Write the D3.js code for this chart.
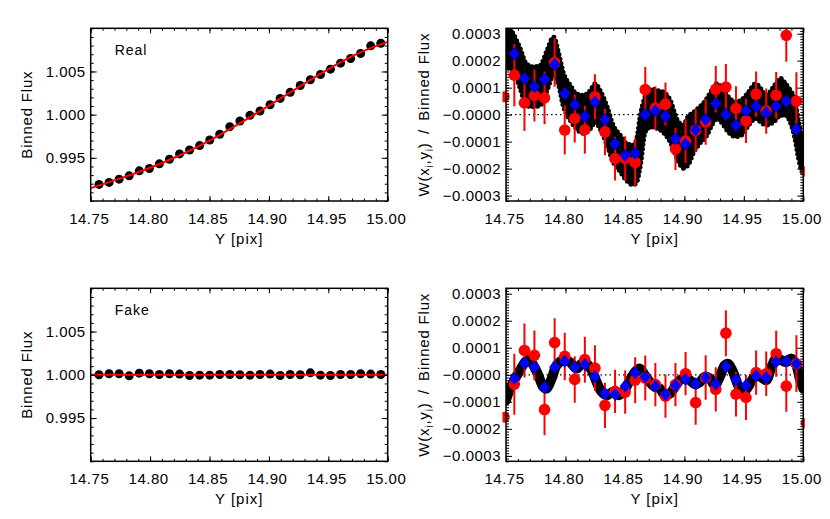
<!DOCTYPE html>
<html>
<head>
<meta charset="utf-8">
<script src="https://cdn.jsdelivr.net/npm/d3@7/dist/d3.min.js"></script>
<style>
  body { margin: 0; background: #fff; }
  svg { display: block; }
</style>
</head>
<body>
<script>
// bin centres shared by every panel
const binX = [14.7570, 14.7655, 14.7739, 14.7824, 14.7909, 14.7994, 14.8078, 14.8163,
  14.8248, 14.8332, 14.8417, 14.8502, 14.8586, 14.8671, 14.8756, 14.8841, 14.8925,
  14.9010, 14.9095, 14.9179, 14.9264, 14.9349, 14.9434, 14.9518, 14.9603, 14.9688,
  14.9772, 14.9857, 14.9942];

// left column: binned flux
const realFlux = [0.99192, 0.99215, 0.99253, 0.99291, 0.99349, 0.99376, 0.99430, 0.99484,
  0.99545, 0.99591, 0.99642, 0.99707, 0.99773, 0.99861, 0.99926, 0.99992, 1.00042,
  1.00115, 1.00188, 1.00258, 1.00338, 1.00404, 1.00465, 1.00527, 1.00596, 1.00650,
  1.00708, 1.00797, 1.00827];
const fitX = [14.75, 14.775, 14.80, 14.825, 14.85, 14.875, 14.90, 14.925, 14.95, 14.975, 15.00];
const realFit = [0.99149, 0.99262, 0.99385, 0.99530, 0.99700, 0.99895, 1.00105, 1.00318,
  1.00527, 1.00710, 1.00843];
const fakeFlux = [1.00000, 1.00012, 1.00012, 0.99988, 1.00019, 1.00012, 1.00004, 1.00012,
  1.00008, 0.99992, 0.99996, 0.99996, 1.00004, 1.00004, 1.00000, 0.99996, 1.00004,
  1.00008, 0.99992, 1.00004, 1.00000, 1.00023, 0.99996, 0.99992, 1.00004, 1.00004,
  1.00012, 1.00008, 1.00004];
const fakeFit = [1.0, 1.0, 1.0, 1.0, 1.0, 1.0, 1.0, 1.0, 1.0, 1.0, 1.0];

// right column: W(x,y) / binned flux
const realW = [1.46e-4, 0.44e-4, 0.71e-4, 0.62e-4, 1.93e-4, -0.57e-4, -0.14e-4, -0.56e-4,
  0.66e-4, -0.64e-4, -1.63e-4, -1.62e-4, -1.77e-4, 0.93e-4, 0.24e-4, 0.39e-4, -1.27e-4,
  -0.98e-4, -0.58e-4, -0.27e-4, 0.94e-4, 1.02e-4, 0.23e-4, -0.23e-4, 0.76e-4, 0.13e-4,
  0.72e-4, 2.94e-4, 0.50e-4];
const realWErr = [1.15e-4, 1.05e-4, 0.96e-4, 0.98e-4, 0.90e-4, 0.91e-4, 0.89e-4, 0.89e-4,
  0.84e-4, 0.86e-4, 0.81e-4, 0.82e-4, 0.89e-4, 0.84e-4, 0.81e-4, 0.80e-4, 0.78e-4,
  0.81e-4, 0.81e-4, 0.85e-4, 0.86e-4, 0.86e-4, 0.82e-4, 0.82e-4, 0.84e-4, 0.84e-4,
  0.86e-4, 0.98e-4, 1.07e-4];
const realWBin = [2.26e-4, 1.34e-4, 1.03e-4, 1.31e-4, 1.87e-4, 0.78e-4, 0.38e-4, -0.06e-4,
  0.47e-4, -0.18e-4, -1.09e-4, -1.50e-4, -1.43e-4, 0.01e-4, 0.14e-4, -0.06e-4, -0.89e-4,
  -1.09e-4, -0.56e-4, -0.18e-4, 0.41e-4, 0.01e-4, -0.39e-4, 0.14e-4, 0.31e-4, 0.08e-4,
  0.31e-4, 0.50e-4, -0.54e-4];
const bandX = [14.750, 14.753, 14.756, 14.762, 14.767, 14.773, 14.779, 14.784, 14.790,
  14.794, 14.798, 14.804, 14.809, 14.815, 14.821, 14.825, 14.829, 14.835, 14.840, 14.846,
  14.851, 14.857, 14.860, 14.863, 14.867, 14.872, 14.877, 14.882, 14.888, 14.894, 14.899,
  14.903, 14.908, 14.913, 14.919, 14.923, 14.927, 14.931, 14.937, 14.943, 14.948, 14.954,
  14.960, 14.964, 14.969, 14.975, 14.981, 14.985, 14.989, 14.993, 14.996, 14.999, 15.000];
const bandHi = [3.2e-4, 3.2e-4, 3.0e-4, 2.44e-4, 1.89e-4, 1.77e-4, 1.83e-4, 2.32e-4, 2.87e-4,
  2.32e-4, 1.58e-4, 1.09e-4, 0.78e-4, 0.72e-4, 0.90e-4, 1.15e-4, 0.90e-4, 0.29e-4, -0.39e-4,
  -0.76e-4, -1.06e-4, -1.13e-4, -0.88e-4, -0.02e-4, 0.66e-4, 0.95e-4, 0.90e-4, 0.84e-4,
  0.54e-4, -0.20e-4, -0.39e-4, -0.08e-4, 0.10e-4, 0.29e-4, 0.60e-4, 0.90e-4, 1.15e-4,
  1.03e-4, 0.66e-4, 0.47e-4, 0.54e-4, 0.84e-4, 1.15e-4, 0.97e-4, 0.72e-4, 1.03e-4, 1.34e-4,
  1.15e-4, 0.90e-4, 0.54e-4, -0.27e-4, -0.88e-4, -1.0e-4];
const bandLo = [1.8e-4, 1.7e-4, 1.64e-4, 0.97e-4, 0.35e-4, 0.29e-4, 0.35e-4, 0.84e-4, 1.46e-4,
  1.15e-4, 0.35e-4, -0.20e-4, -0.51e-4, -0.69e-4, -0.51e-4, -0.27e-4, -0.51e-4, -1.13e-4,
  -1.74e-4, -2.11e-4, -2.42e-4, -2.60e-4, -2.48e-4, -1.87e-4, -0.64e-4, -0.45e-4, -0.51e-4,
  -0.64e-4, -1.0e-4, -1.62e-4, -1.99e-4, -1.87e-4, -1.37e-4, -1.06e-4, -0.76e-4, -0.39e-4,
  -0.14e-4, -0.27e-4, -0.64e-4, -0.82e-4, -0.76e-4, -0.39e-4, -0.14e-4, -0.27e-4, -0.39e-4,
  -0.27e-4, -0.02e-4, -0.02e-4, -0.27e-4, -0.88e-4, -1.62e-4, -2.11e-4, -2.2e-4];

const fakeW = [-0.35e-4, 0.90e-4, 0.72e-4, -1.29e-4, 1.19e-4, 0.68e-4, -0.17e-4, 0.56e-4,
  0.25e-4, -1.13e-4, -0.61e-4, -0.64e-4, -0.20e-4, -0.12e-4, -0.36e-4, -0.79e-4, -0.36e-4,
  0.04e-4, -1.03e-4, -0.10e-4, -0.54e-4, 1.54e-4, -0.72e-4, -0.84e-4, 0.08e-4, 0.04e-4,
  0.78e-4, -0.42e-4, 0.41e-4];
const fakeWErr = [1.13e-4, 1.00e-4, 0.92e-4, 0.95e-4, 0.90e-4, 0.88e-4, 0.86e-4, 0.85e-4,
  0.84e-4, 0.84e-4, 0.80e-4, 0.80e-4, 0.85e-4, 0.83e-4, 0.80e-4, 0.80e-4, 0.80e-4,
  0.80e-4, 0.82e-4, 0.82e-4, 0.82e-4, 0.85e-4, 0.82e-4, 0.83e-4, 0.82e-4, 0.82e-4,
  0.85e-4, 0.95e-4, 1.05e-4];
const fakeWBin = [-0.14e-4, 0.44e-4, 0.29e-4, -0.47e-4, 0.29e-4, 0.50e-4, 0.29e-4, 0.38e-4,
  -0.06e-4, -0.69e-4, -0.73e-4, -0.41e-4, 0.08e-4, -0.08e-4, -0.42e-4, -0.73e-4, -0.39e-4,
  -0.17e-4, -0.33e-4, -0.10e-4, -0.33e-4, 0.31e-4, -0.18e-4, -0.39e-4, -0.04e-4, -0.10e-4,
  0.47e-4, 0.50e-4, 0.41e-4];
const curveX = [14.7500, 14.7534, 14.7576, 14.7618, 14.7660, 14.7688, 14.7730, 14.7772,
  14.7814, 14.7842, 14.7884, 14.7926, 14.7982, 14.8038, 14.8094, 14.8136, 14.8178, 14.8220,
  14.8262, 14.8304, 14.8346, 14.8402, 14.8444, 14.8486, 14.8542, 14.8584, 14.8626, 14.8668,
  14.8710, 14.8752, 14.8794, 14.8836, 14.8878, 14.8920, 14.8962, 14.9004, 14.9046, 14.9088,
  14.9130, 14.9172, 14.9214, 14.9256, 14.9298, 14.9340, 14.9368, 14.9410, 14.9452, 14.9494,
  14.9536, 14.9578, 14.9620, 14.9662, 14.9690, 14.9732, 14.9774, 14.9816, 14.9858, 14.9900,
  14.9942, 14.9970, 15.0000];
const curveW = [-0.94e-4, -0.51e-4, -0.14e-4, 0.17e-4, 0.47e-4, 0.56e-4, 0.35e-4, -0.02e-4,
  -0.45e-4, -0.51e-4, -0.14e-4, 0.35e-4, 0.54e-4, 0.47e-4, 0.23e-4, 0.41e-4, 0.41e-4,
  0.17e-4, -0.27e-4, -0.63e-4, -0.76e-4, -0.63e-4, -0.76e-4, -0.63e-4, -0.20e-4, 0.10e-4,
  0.23e-4, -0.02e-4, -0.27e-4, -0.45e-4, -0.51e-4, -0.76e-4, -0.70e-4, -0.45e-4, -0.20e-4,
  -0.14e-4, -0.20e-4, -0.35e-4, -0.27e-4, -0.07e-4, -0.14e-4, -0.39e-4, -0.07e-4, 0.35e-4,
  0.41e-4, 0.10e-4, -0.39e-4, -0.63e-4, -0.45e-4, -0.14e-4, -0.02e-4, -0.14e-4, -0.20e-4,
  0.29e-4, 0.62e-4, 0.54e-4, 0.47e-4, 0.60e-4, 0.35e-4, -0.14e-4, -0.51e-4];

// symbols that sit just outside the x range and only show as a sliver
const edgeX = [14.7485, 15.0025];
const realEdgeW = [0.66e-4, -2.11e-4];
const fakeEdgeW = [-1.57e-4, -1.79e-4];

// tick values
const xMajor = [14.75, 14.80, 14.85, 14.90, 14.95, 15.00];
const xMinor = d3.range(14.75, 15.0001, 0.01);
const fluxMajor = [0.995, 1.000, 1.005];
const fluxMinor = d3.range(0.990, 1.01001, 0.001);
const wMajor = [-0.0003, -0.0002, -0.0001, 0, 0.0001, 0.0002, 0.0003];
const wMinor = d3.range(-0.00032, 0.000321, 0.00001);

const W = 830, H = 519;
const FONT = "'Liberation Sans', Arial, sans-serif";
const svg = d3.select("body").append("svg")
  .attr("width", W).attr("height", H)
  .style("font-family", FONT);

const colLeft = [90.7, 387.7], colRight = [506, 803.3];
const rowTop = [28.3, 201], rowBot = [288.3, 461.3];

let clipN = 0;

function panel(xr, yr, yDomain, yMajor, yMinor, yFmt) {
  const x = d3.scaleLinear().domain([14.75, 15.0]).range(xr);
  const y = d3.scaleLinear().domain(yDomain).range([yr[1], yr[0]]);
  const g = svg.append("g");
  const id = "clip" + (clipN++);
  svg.append("clipPath").attr("id", id).append("rect")
    .attr("x", xr[0]).attr("y", yr[0]).attr("width", xr[1] - xr[0]).attr("height", yr[1] - yr[0]);
  const plot = g.append("g").attr("clip-path", `url(#${id})`);
  return { x, y, g, plot, xr, yr, yMajor, yMinor, yFmt, id };
}

function axes(p) {
  const { g, x, y, xr, yr } = p;
  const ax = g.append("g");
  ax.append("g").attr("transform", `translate(0,${yr[1]})`)
    .call(d3.axisBottom(x).tickValues(xMinor).tickSize(-2.5).tickFormat(""));
  ax.append("g").attr("transform", `translate(0,${yr[0]})`)
    .call(d3.axisTop(x).tickValues(xMinor).tickSize(-2.5).tickFormat(""));
  ax.append("g").attr("transform", `translate(0,${yr[1]})`)
    .call(d3.axisBottom(x).tickValues(xMajor).tickSize(-5).tickPadding(12).tickFormat(d3.format(".2f")))
    .selectAll("text").attr("dx", -2);
  ax.append("g").attr("transform", `translate(0,${yr[0]})`)
    .call(d3.axisTop(x).tickValues(xMajor).tickSize(-5).tickFormat(""));
  ax.append("g").attr("transform", `translate(${xr[0]},0)`)
    .call(d3.axisLeft(y).tickValues(p.yMinor).tickSize(-3).tickFormat(""));
  ax.append("g").attr("transform", `translate(${xr[1]},0)`)
    .call(d3.axisRight(y).tickValues(p.yMinor).tickSize(-3).tickFormat(""));
  ax.append("g").attr("transform", `translate(${xr[0]},0)`)
    .call(d3.axisLeft(y).tickValues(p.yMajor).tickSize(-6).tickPadding(5).tickFormat(p.yFmt));
  ax.append("g").attr("transform", `translate(${xr[1]},0)`)
    .call(d3.axisRight(y).tickValues(p.yMajor).tickSize(-6).tickFormat(""));
  ax.selectAll(".domain").remove();
  ax.selectAll("line").attr("stroke", "#000").attr("stroke-width", 1);
  ax.selectAll("text").attr("fill", "#000").style("font-family", FONT)
    .style("font-size", "15px").style("letter-spacing", "0.5px");
  ax.selectAll("g").attr("font-family", null).attr("font-size", null);
  g.append("rect").attr("x", xr[0]).attr("y", yr[0])
    .attr("width", xr[1] - xr[0]).attr("height", yr[1] - yr[0])
    .attr("fill", "none").attr("stroke", "#000").attr("stroke-width", 1.5);
  g.append("text").attr("x", (xr[0] + xr[1]) / 2).attr("y", yr[1] + 43)
    .attr("text-anchor", "middle").style("font-size", "15px").style("letter-spacing", "1px")
    .text("Y [pix]");
}

function fluxPanel(yr, flux, fit, label) {
  const p = panel(colLeft, yr, [0.990, 1.010], fluxMajor, fluxMinor, d3.format(".3f"));
  p.plot.selectAll("circle").data(binX).join("circle")
    .attr("cx", d => p.x(d)).attr("cy", (d, i) => p.y(flux[i])).attr("r", 4.5).attr("fill", "#000");
  p.plot.append("path").datum(fitX)
    .attr("d", d3.line().x(d => p.x(d)).y((d, i) => p.y(fit[i])).curve(d3.curveNatural))
    .attr("fill", "none").attr("stroke", "#ff0000").attr("stroke-width", 2);
  axes(p);
  p.g.append("text").attr("x", colLeft[0] + 24).attr("y", yr[0] + 27)
    .style("font-size", "14px").style("letter-spacing", "1px").text(label);
  p.g.append("text")
    .attr("transform", `translate(${colLeft[0] - 59},${(yr[0] + yr[1]) / 2}) rotate(-90)`)
    .attr("text-anchor", "middle").style("font-size", "15px").style("letter-spacing", "0.8px")
    .text("Binned Flux");
}

function wFmt(v) {
  return (v <= 0 ? "\u2212" : "") + Math.abs(v).toFixed(4);
}

function wPanel(yr, red, err, blue, edgeW, drawBlack) {
  const p = panel(colRight, yr, [-0.00032, 0.00032], wMajor, wMinor, wFmt);
  p.plot.append("line").attr("x1", colRight[0]).attr("x2", colRight[1])
    .attr("y1", p.y(0)).attr("y2", p.y(0))
    .attr("stroke", "#000").attr("stroke-width", 1.3).attr("stroke-dasharray", "1.5,3");
  drawBlack(p);
  p.plot.selectAll("line.err").data(binX).join("line").attr("class", "err")
    .attr("x1", d => p.x(d)).attr("x2", d => p.x(d))
    .attr("y1", (d, i) => p.y(red[i] - err[i])).attr("y2", (d, i) => p.y(red[i] + err[i]))
    .attr("stroke", "#ff0000").attr("stroke-width", 2);
  p.plot.selectAll("circle.red").data(binX).join("circle").attr("class", "red")
    .attr("cx", d => p.x(d)).attr("cy", (d, i) => p.y(red[i])).attr("r", 5.8).attr("fill", "#ff0000");
  // the two edge symbols: visible only as a sliver at the frame
  const eid = p.id + "e";
  svg.append("clipPath").attr("id", eid).append("rect")
    .attr("x", colRight[0] - 3.5).attr("y", yr[0]).attr("width", colRight[1] - colRight[0] + 5)
    .attr("height", yr[1] - yr[0]);
  p.g.append("g").attr("clip-path", `url(#${eid})`)
    .selectAll("circle").data(edgeX).join("circle")
    .attr("cx", d => p.x(d)).attr("cy", (d, i) => p.y(edgeW[i])).attr("r", 5.5).attr("fill", "#ff0000");
  p.plot.selectAll("path.dia").data(binX).join("path").attr("class", "dia")
    .attr("transform", (d, i) => `translate(${p.x(d)},${p.y(blue[i])})`)
    .attr("d", "M0,-6.5L5.5,0L0,6.5L-5.5,0Z").attr("fill", "#0000ff");
  axes(p);
  const lab = p.g.append("text")
    .attr("transform", `translate(${colRight[0] - 77},${(yr[0] + yr[1]) / 2}) rotate(-90)`)
    .attr("text-anchor", "middle").style("font-size", "15px").style("letter-spacing", "0.8px");
  lab.append("tspan").text("W(x");
  lab.append("tspan").attr("dy", 4).style("font-size", "10px").text("i");
  lab.append("tspan").attr("dy", -4).text(",y");
  lab.append("tspan").attr("dy", 4).style("font-size", "10px").text("i");
  lab.append("tspan").attr("dy", -4).text(")\u2002/\u2002Binned Flux");
}

fluxPanel(rowTop, realFlux, realFit, "Real");
fluxPanel(rowBot, fakeFlux, fakeFit, "Fake");

wPanel(rowTop, realW, realWErr, realWBin, realEdgeW, p => {
  const band = d3.area().x(d => p.x(d))
    .y0((d, i) => p.y(bandLo[i])).y1((d, i) => p.y(bandHi[i])).curve(d3.curveMonotoneX);
  p.plot.append("path").datum(bandX).attr("d", band)
    .attr("fill", "#000").attr("stroke", "#000").attr("stroke-width", 2).attr("stroke-linejoin", "round");
  // dotted outline gives the band the beaded edge of the individual symbols
  p.plot.append("path").datum(bandX).attr("d", band)
    .attr("fill", "none").attr("stroke", "#000").attr("stroke-width", 5)
    .attr("stroke-linecap", "round").attr("stroke-dasharray", "0,4.5");
});
wPanel(rowBot, fakeW, fakeWErr, fakeWBin, fakeEdgeW, p => {
  p.plot.append("path").datum(curveX)
    .attr("d", d3.line().x(d => p.x(d)).y((d, i) => p.y(curveW[i])).curve(d3.curveCatmullRom))
    .attr("fill", "none").attr("stroke", "#000").attr("stroke-width", 10)
    .attr("stroke-linecap", "round").attr("stroke-linejoin", "round");
});
</script>
</body>
</html>
